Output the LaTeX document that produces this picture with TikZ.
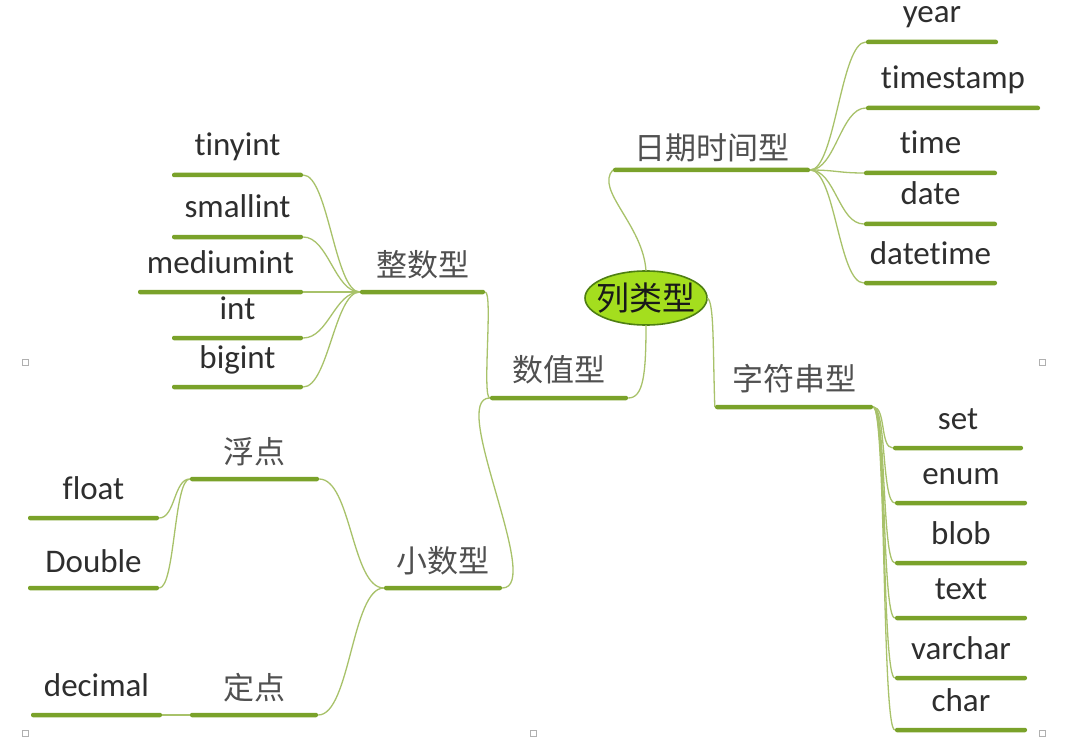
\documentclass[tikz,border=0pt]{standalone}
\usepackage{fontspec}
\setmainfont{Carlito}[Ligatures=NoCommon]
\newfontfamily\cjk{Noto Sans CJK SC}
\definecolor{barc}{HTML}{7AA22A}
\definecolor{linkc}{HTML}{A8C26A}
\definecolor{ballc}{HTML}{A4DE1E}
\definecolor{ballb}{HTML}{4E7F12}
\definecolor{txtc}{HTML}{2E2E2E}
\definecolor{cjkc}{HTML}{505050}
\definecolor{handc}{HTML}{B0B0B0}
\begin{document}
\begin{tikzpicture}[x=1pt,y=-1pt,
 bar/.style={fill=barc, draw=none, inner sep=0pt, minimum height=4.5pt, minimum width=#1, rounded corners=2pt},
 en/.style={font=\fontsize{33}{36}\selectfont, text=txtc, inner sep=0pt, anchor=base},
 zh/.style={font=\cjk\fontsize{31}{36}\selectfont, text=cjkc, inner sep=0pt},
 link/.style={draw=linkc, line width=1.3pt},
 rootbox/.style={inner sep=0pt, minimum width=122pt, minimum height=54pt, font=\cjk\fontsize{33}{38}\selectfont, text=black!90},
 handle/.style={draw=handc, line width=0.8pt, fill=white, minimum size=6pt, inner sep=0pt}]
\useasboundingbox[fill=white] (0,0) rectangle (1068,738);

% root
\fill[ballc, draw=ballb, line width=1.6pt] (646,298) ellipse [x radius=61pt, y radius=27pt];
\node[rootbox] (root) at (646,298) {列类型};

% date/time group
\node[bar=197] (rq) at (711.5,170) {};
\node[zh] (rqt) at (711.5,148) {日期时间型};
\node[bar=132] (year) at (932,42) {};
\node[en] (yeart) at (932,23) {year};
\node[bar=174] (timestamp) at (953,108) {};
\node[en] (timestampt) at (953,89) {timestamp};
\node[bar=133] (time) at (930.5,173) {};
\node[en] (timet) at (930.5,154) {time};
\node[bar=133] (date) at (930.5,224) {};
\node[en] (datet) at (930.5,205) {date};
\node[bar=133] (datetime) at (930.5,283) {};
\node[en] (datetimet) at (930.5,264) {datetime};

% integer group
\node[bar=125] (zs) at (422.5,292) {};
\node[zh] (zst) at (422.5,265) {整数型};
\node[bar=131] (tinyint) at (237.5,175) {};
\node[en] (tinyintt) at (237.5,156) {tinyint};
\node[bar=131] (smallint) at (237.5,237) {};
\node[en] (smallintt) at (237.5,218) {smallint};
\node[bar=165] (mediumint) at (220.5,292) {};
\node[en] (mediumintt) at (220.5,273) {mediumint};
\node[bar=131] (int) at (237.5,338) {};
\node[en] (intt) at (237.5,319) {int};
\node[bar=131] (bigint) at (237.5,387) {};
\node[en] (bigintt) at (237.5,368) {bigint};

% numeric
\node[bar=138] (sz) at (559,398) {};
\node[zh] (szt) at (559,370) {数值型};

% string group
\node[bar=158] (zf) at (794,407) {};
\node[zh] (zft) at (794,379) {字符串型};
\node[bar=130] (set) at (958,448) {};
\node[en] (sett) at (958,429) {set};
\node[bar=132] (enum) at (961,503) {};
\node[en] (enumt) at (961,484) {enum};
\node[bar=132] (blob) at (961,563) {};
\node[en] (blobt) at (961,544) {blob};
\node[bar=132] (text) at (961,618) {};
\node[en] (textt) at (961,599) {text};
\node[bar=132] (varchar) at (961,678) {};
\node[en] (varchart) at (961,659) {varchar};
\node[bar=132] (char) at (961,730) {};
\node[en] (chart) at (961,711) {char};

% decimal group
\node[bar=118] (xs) at (443,588) {};
\node[zh] (xst) at (443,561) {小数型};
\node[bar=129] (fd) at (254.5,479) {};
\node[zh] (fdt) at (254.5,452) {浮点};
\node[bar=131] (float) at (93.5,518) {};
\node[en] (floatt) at (93.5,499) {float};
\node[bar=131] (double) at (93.5,588) {};
\node[en] (doublet) at (93.5,572) {Double};
\node[bar=128] (dd) at (254,715) {};
\node[zh] (ddt) at (254,688) {定点};
\node[bar=131] (decimal) at (96.5,715) {};
\node[en] (decimalt) at (96.5,696) {decimal};

% connectors
\draw[link] (root.north) .. controls +(-3,-46) and +(-18,20) .. (rq.west);
\draw[link] (root.south) .. controls +(0,50) and +(15,0) .. (sz.east);
\draw[link] (root.east) .. controls +(7,3) and +(-2,-60) .. (zf.west);

\foreach \c in {year,timestamp,time,date,datetime}
  \draw[link] (rq.east) .. controls +(25,0) and +(-25,0) .. (\c.west);
\foreach \c in {set,enum,blob,text,varchar,char}
  \draw[link] (zf.east) .. controls +(13,0) and +(-13,0) .. (\c.west);
\foreach \c in {tinyint,smallint,mediumint,int,bigint}
  \draw[link] (zs.west) .. controls +(-25,0) and +(25,0) .. (\c.east);

\draw[link] (zs.east) .. controls +(8,0) and +(-8,0) .. (sz.west);
\draw[link] (sz.west) .. controls +(-42,0) and +(42,0) .. (xs.east);
\draw[link] (xs.west) .. controls +(-32,0) and +(32,0) .. (fd.east);
\draw[link] (xs.west) .. controls +(-32,0) and +(32,0) .. (dd.east);
\draw[link] (fd.west) .. controls +(-16,0) and +(16,0) .. (float.east);
\draw[link] (fd.west) .. controls +(-16,0) and +(16,0) .. (double.east);
\draw[link] (dd.west) -- (decimal.east);

% selection handles
\node[handle] (h1) at (25,362) {};
\node[handle] (h2) at (1042,362) {};
\node[handle] (h3) at (25,733) {};
\node[handle] (h4) at (533,733) {};
\node[handle] (h5) at (1042,733) {};
\end{tikzpicture}
\end{document}
